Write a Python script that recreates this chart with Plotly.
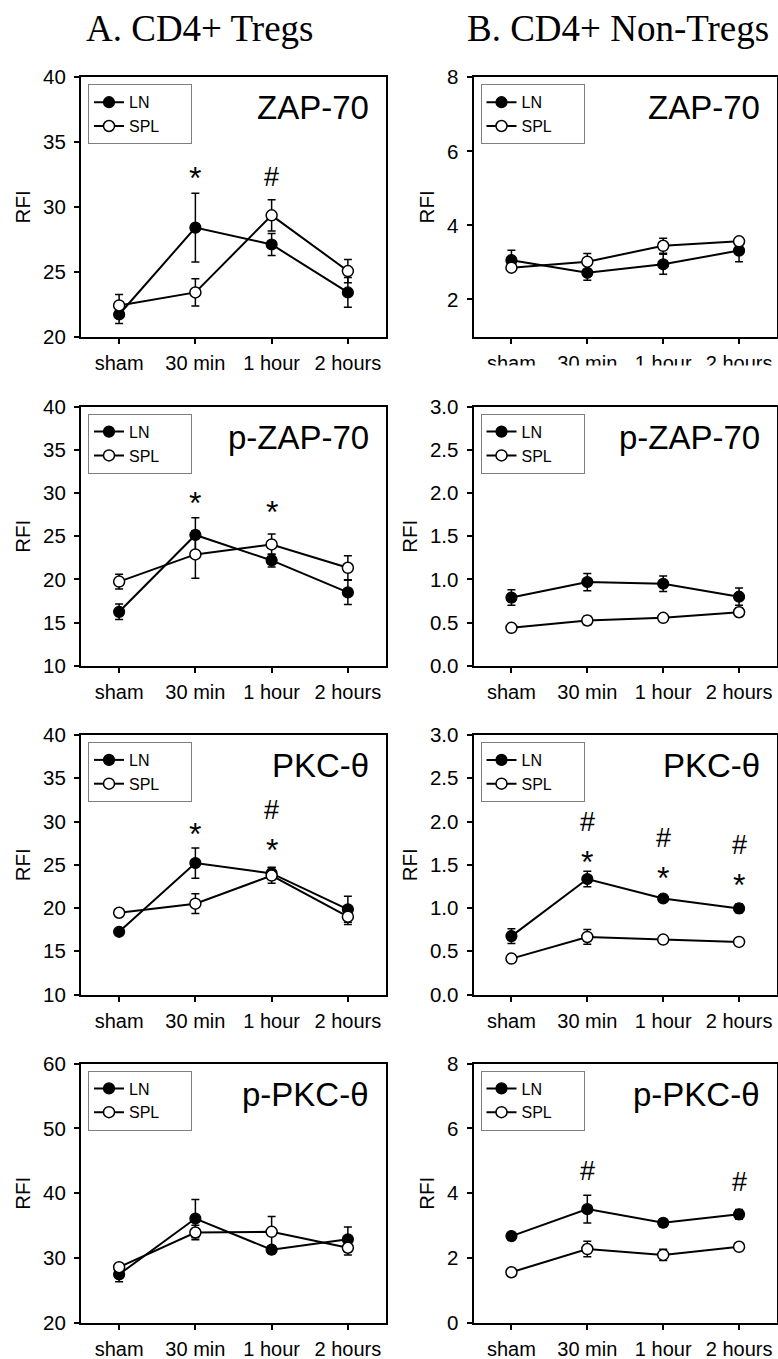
import plotly.graph_objects as go

# ---------------- data ----------------
categories = ["sham", "30 min", "1 hour", "2 hours"]
series_names = ["LN", "SPL"]
column_titles = ["A. CD4+ Tregs", "B. CD4+ Non-Tregs"]
panel_names = ["ZAP-70", "ZAP-70", "p-ZAP-70", "p-ZAP-70",
               "PKC-θ", "PKC-θ", "p-PKC-θ", "p-PKC-θ"]

# ZAP-70
zap_treg_ln = [21.7, 28.4, 27.1, 23.4]
zap_treg_ln_err = [0.7, 2.65, 0.85, 1.15]
zap_treg_spl = [22.4, 23.4, 29.35, 25.05]
zap_treg_spl_err = [0.85, 1.05, 1.2, 0.9]
zap_non_ln = [3.06, 2.72, 2.95, 3.32]
zap_non_ln_err = [0.27, 0.2, 0.27, 0.3]
zap_non_spl = [2.86, 3.02, 3.45, 3.57]
zap_non_spl_err = [0.05, 0.22, 0.2, 0.07]

# p-ZAP-70
pzap_treg_ln = [16.25, 25.15, 22.2, 18.5]
pzap_treg_ln_err = [0.9, 2.0, 0.75, 1.4]
pzap_treg_spl = [19.75, 22.9, 24.05, 21.35]
pzap_treg_spl_err = [0.85, 2.75, 1.2, 1.4]
pzap_non_ln = [0.79, 0.97, 0.95, 0.80]
pzap_non_ln_err = [0.09, 0.1, 0.09, 0.1]
pzap_non_spl = [0.44, 0.525, 0.555, 0.62]
pzap_non_spl_err = [0.02, 0.05, 0.02, 0.05]

# PKC-theta
pkc_treg_ln = [17.25, 25.2, 24.0, 19.85]
pkc_treg_ln_err = [0.35, 1.75, 0.7, 1.5]
pkc_treg_spl = [19.45, 20.5, 23.75, 19.0]
pkc_treg_spl_err = [0.2, 1.15, 0.9, 0.9]
pkc_non_ln = [0.675, 1.335, 1.11, 0.995]
pkc_non_ln_err = [0.085, 0.09, 0.03, 0.05]
pkc_non_spl = [0.415, 0.665, 0.635, 0.608]
pkc_non_spl_err = [0.02, 0.085, 0.02, 0.02]

# p-PKC-theta
ppkc_treg_ln = [27.5, 36.1, 31.3, 32.9]
ppkc_treg_ln_err = [1.15, 2.95, 0.6, 1.9]
ppkc_treg_spl = [28.6, 33.95, 34.05, 31.6]
ppkc_treg_spl_err = [0.5, 1.1, 2.35, 1.1]
ppkc_non_ln = [2.68, 3.51, 3.09, 3.35]
ppkc_non_ln_err = [0.1, 0.43, 0.12, 0.15]
ppkc_non_spl = [1.565, 2.28, 2.10, 2.35]
ppkc_non_spl_err = [0.04, 0.24, 0.17, 0.05]

# y axis ranges / ticks per panel
y_ranges = [[20, 40], [1, 8], [10, 40], [0, 3], [10, 40], [0, 3], [20, 60], [0, 8]]
y_ticks = [[20, 25, 30, 35, 40], [2, 4, 6, 8],
           [10, 15, 20, 25, 30, 35, 40], [0, 0.5, 1, 1.5, 2, 2.5, 3],
           [10, 15, 20, 25, 30, 35, 40], [0, 0.5, 1, 1.5, 2, 2.5, 3],
           [20, 30, 40, 50, 60], [0, 2, 4, 6, 8]]

# significance marks: (panel index, category index, symbol, y)
sig_panel = [0, 0, 2, 2, 4, 4, 4, 5, 5, 5, 5, 5, 5, 7, 7]
sig_cat = [1, 2, 1, 2, 1, 2, 2, 1, 1, 2, 2, 3, 3, 1, 3]
sig_sym = ["*", "#", "*", "*", "*", "#", "*", "#", "*", "#", "*", "#", "*", "#", "#"]
sig_y = [32.8, 32.3, 29.65, 28.6, 29.4, 31.3, 27.5,
         2.0, 1.61, 1.81, 1.43, 1.73, 1.35, 4.69, 4.35]

panels = [
    (zap_treg_ln, zap_treg_ln_err, zap_treg_spl, zap_treg_spl_err),
    (zap_non_ln, zap_non_ln_err, zap_non_spl, zap_non_spl_err),
    (pzap_treg_ln, pzap_treg_ln_err, pzap_treg_spl, pzap_treg_spl_err),
    (pzap_non_ln, pzap_non_ln_err, pzap_non_spl, pzap_non_spl_err),
    (pkc_treg_ln, pkc_treg_ln_err, pkc_treg_spl, pkc_treg_spl_err),
    (pkc_non_ln, pkc_non_ln_err, pkc_non_spl, pkc_non_spl_err),
    (ppkc_treg_ln, ppkc_treg_ln_err, ppkc_treg_spl, ppkc_treg_spl_err),
    (ppkc_non_ln, ppkc_non_ln_err, ppkc_non_spl, ppkc_non_spl_err),
]

# ---------------- layout geometry (pixels) ----------------
W, H = 778, 1359
col_px = [(81, 386), (473.5, 777)]
row_px = [(77.3, 336.5), (406.7, 665.8), (735, 994.5), (1063.5, 1323)]

SANS = "Liberation Sans, Arial, sans-serif"
SERIF = "Liberation Serif, Times New Roman, serif"
PAD = "\u00a0" * 6  # widens the legend box like the original

fig = go.Figure()
layout = dict(
    template="none",
    width=W, height=H, autosize=False,
    margin=dict(l=0, r=0, t=0, b=0, pad=0, autoexpand=False),
    paper_bgcolor="white", plot_bgcolor="white",
    font=dict(family=SANS, color="black"),
    showlegend=True,
)
annotations = []

for i, (ln, ln_err, spl, spl_err) in enumerate(panels):
    r, c = divmod(i, 2)
    n = i + 1
    xa = "x" if n == 1 else f"x{n}"
    ya = "y" if n == 1 else f"y{n}"
    lg = "legend" if n == 1 else f"legend{n}"
    x0, x1 = col_px[c]
    top, bot = row_px[r]

    err_style = dict(type="data", color="black", thickness=1.5, width=4, visible=True)
    fig.add_trace(go.Scatter(
        x=categories, y=ln, name=series_names[0], mode="lines+markers",
        line=dict(color="black", width=2),
        marker=dict(symbol="circle", size=11, color="black",
                    line=dict(color="black", width=1.2)),
        error_y=dict(array=ln_err, **err_style),
        xaxis=xa, yaxis=ya, legend=lg, cliponaxis=False))
    fig.add_trace(go.Scatter(
        x=categories, y=spl, name=series_names[1] + PAD, mode="lines+markers",
        line=dict(color="black", width=2),
        marker=dict(symbol="circle", size=11, color="white",
                    line=dict(color="black", width=1.5)),
        error_y=dict(array=spl_err, **err_style),
        xaxis=xa, yaxis=ya, legend=lg, cliponaxis=False))

    is_frac = c == 1 and r in (1, 2)
    layout["xaxis" if n == 1 else f"xaxis{n}"] = dict(
        domain=[x0 / W, x1 / W], anchor=ya, automargin=False,
        type="category", categoryorder="array", categoryarray=categories,
        range=[-0.5, 3.5],
        showline=True, linecolor="black", linewidth=2, mirror=True,
        ticks="outside", ticklen=5, tickwidth=1.5, tickcolor="black",
        ticklabelstandoff=2,
        tickfont=dict(family=SANS, size=20, color="black"),
        showgrid=False, zeroline=False, fixedrange=True,
    )
    layout["yaxis" if n == 1 else f"yaxis{n}"] = dict(
        domain=[1 - bot / H, 1 - top / H], anchor=xa, automargin=False,
        range=y_ranges[i], tickvals=y_ticks[i],
        tickformat=".1f" if is_frac else "d",
        showline=True, linecolor="black", linewidth=2, mirror=True,
        ticks="outside", ticklen=5, tickwidth=1.5, tickcolor="black",
        ticklabelstandoff=4,
        tickfont=dict(family=SANS, size=20.5, color="black"),
        title=dict(text="RFI", font=dict(family=SANS, size=20.5, color="black"),
                   standoff=7),
        showgrid=False, zeroline=False, fixedrange=True,
    )
    layout[lg] = dict(
        x=(x0 + 7) / W, y=1 - (top + 7) / H, xanchor="left", yanchor="top",
        bgcolor="white", bordercolor="#7f7f7f", borderwidth=1,
        font=dict(family=SANS, size=16, color="black"),
        tracegroupgap=0, itemwidth=30,
    )
    # panel label
    annotations.append(dict(
        text=panel_names[i], xref=f"{xa} domain", yref=f"{ya} domain",
        x=1, y=1, xanchor="right", yanchor="middle",
        xshift=-15.5, yshift=-30.5, showarrow=False,
        font=dict(family=SANS, size=33, color="black")))

# significance symbols
for p, ci, s, yv in zip(sig_panel, sig_cat, sig_sym, sig_y):
    n = p + 1
    xa = "x" if n == 1 else f"x{n}"
    ya = "y" if n == 1 else f"y{n}"
    annotations.append(dict(
        text=s, xref=xa, yref=ya, x=categories[ci], y=yv,
        xanchor="center", yanchor="middle", showarrow=False,
        yshift=-7 if s == "*" else 0,
        font=dict(family=SANS, size=32 if s == "*" else 27, color="black")))

# column titles
for c, t in enumerate(column_titles):
    cx = [200, 618][c]
    annotations.append(dict(
        text=t, xref="paper", yref="paper", x=cx / W, y=1 - 29 / H,
        xanchor="center", yanchor="middle", showarrow=False,
        font=dict(family=SERIF, size=37, color="black")))

layout["annotations"] = annotations
# the right-hand top-row tick labels are cut off in the source image
layout["shapes"] = [dict(
    type="rect", xref="paper", yref="paper", layer="above",
    x0=455 / W, x1=1, y0=1 - 376 / H, y1=1 - 365.5 / H,
    fillcolor="white", line=dict(width=0))]

fig.update_layout(**layout)
fig.write_html("out.html",
               config={"displayModeBar": False},
               post_script="document.body.style.margin='0';"
                           "document.body.style.overflow='hidden';")
